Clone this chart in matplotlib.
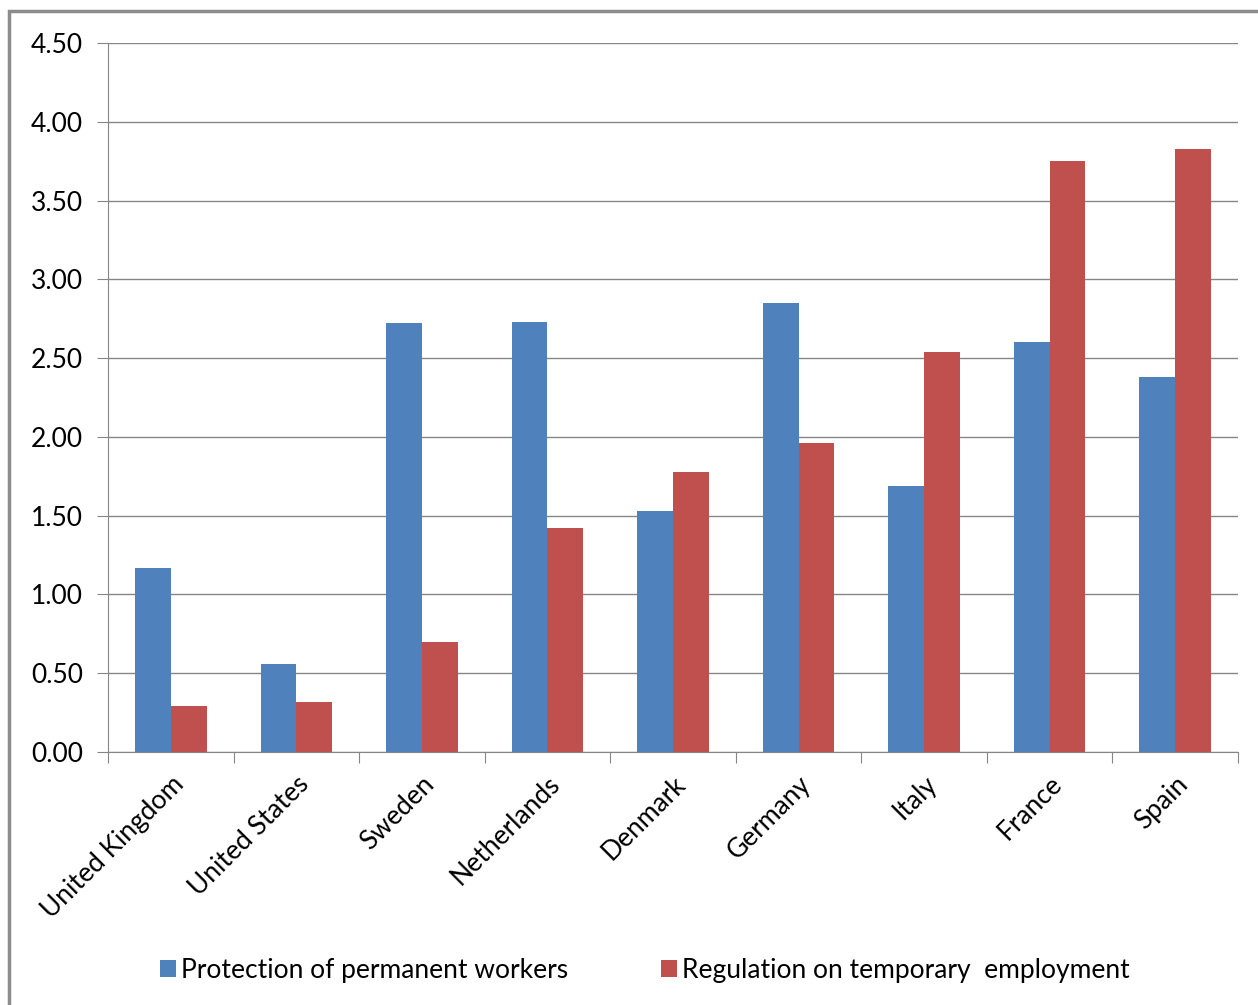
import numpy as np
import matplotlib.pyplot as plt
from matplotlib.patches import Rectangle

countries = ["United Kingdom", "United States", "Sweden", "Netherlands", "Denmark",
             "Germany", "Italy", "France", "Spain"]
permanent = [1.17, 0.56, 2.72, 2.73, 1.53, 2.85, 1.69, 2.60, 2.38]
temporary = [0.29, 0.32, 0.70, 1.42, 1.78, 1.96, 2.54, 3.75, 3.83]
yticks = [0.0, 0.5, 1.0, 1.5, 2.0, 2.5, 3.0, 3.5, 4.0, 4.5]

plt.rcParams['font.family'] = ['Lato', 'DejaVu Sans']

fig = plt.figure(figsize=(12.58, 10.05), dpi=100)
ax = fig.add_axes([108/1258, 1 - 752/1005, 1130/1258, 709/1005])

# chart border (grey frame, runs off right and bottom)
fig.patches.append(Rectangle((9/1258, -0.01), 1.2, 1 - 11/1005 + 0.01,
                             transform=fig.transFigure, fill=False,
                             edgecolor='#8c8c8c', linewidth=2.5))

x = np.arange(len(countries))
w = 0.285
ax.bar(x - w/2, permanent, w, color='#4F81BD', label='Protection of permanent workers')
ax.bar(x + w/2, temporary, w, color='#C0504D', label='Regulation on temporary  employment')

ax.set_xlim(-0.5, len(countries) - 0.5)
ax.set_ylim(0, 4.5)
ax.set_yticks(yticks)
ax.set_yticklabels([f"{v:.2f}" for v in yticks], fontsize=19)
ax.yaxis.grid(True, color='#868686', linewidth=1)
ax.set_axisbelow(True)

ax.set_xticks(np.arange(-0.5, len(countries), 1.0))
ax.set_xticklabels([])
ax.set_xticks(x, minor=True)
ax.set_xticklabels(countries, minor=True, rotation=45, ha='right',
                   rotation_mode='anchor', fontsize=19)
ax.tick_params(axis='x', which='minor', length=0, pad=14)
ax.tick_params(axis='x', which='major', length=8, color='#868686')
ax.tick_params(axis='y', length=8, color='#868686', pad=10)

for side in ['top', 'right']:
    ax.spines[side].set_visible(False)
for side in ['left', 'bottom']:
    ax.spines[side].set_color('#868686')

fig.legend(loc='center', bbox_to_anchor=(645/1258, 1 - 970/1005), ncol=2, frameon=False,
           fontsize=19, handlelength=0.6, handleheight=0.6, handletextpad=0.2,
           columnspacing=3.5)

fig.savefig('out.png', dpi=100)
